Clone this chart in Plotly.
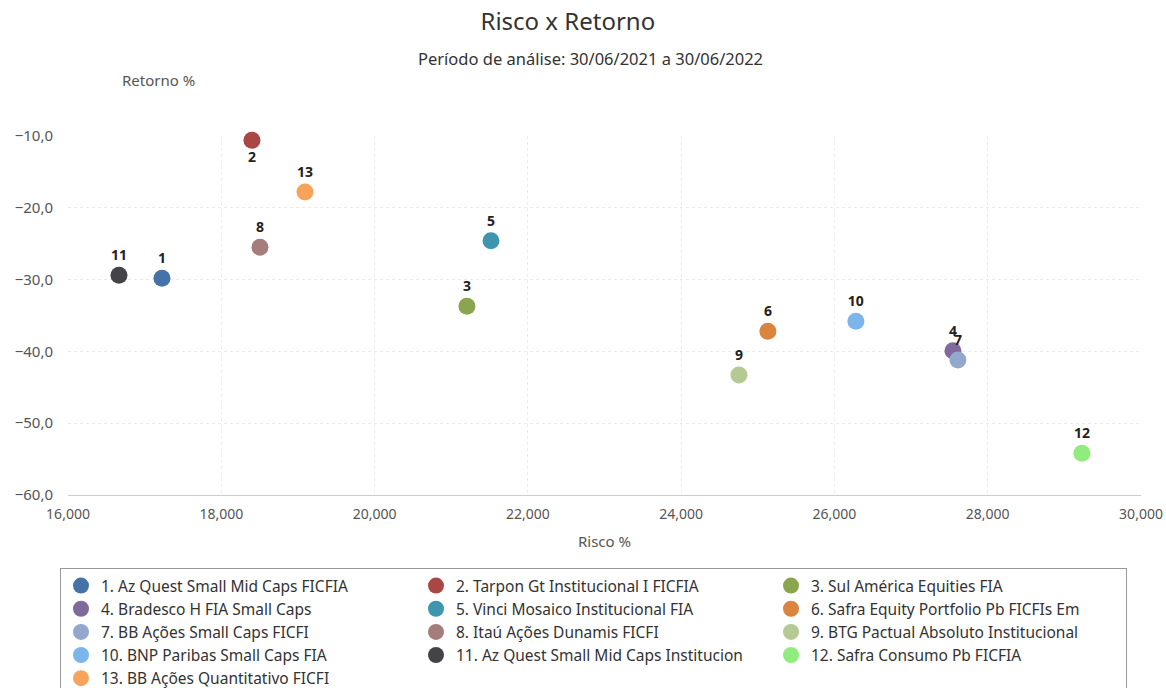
import plotly.graph_objects as go

names = [
    "1. Az Quest Small Mid Caps FICFIA",
    "2. Tarpon Gt Institucional I FICFIA",
    "3. Sul América Equities FIA",
    "4. Bradesco H FIA Small Caps",
    "5. Vinci Mosaico Institucional FIA",
    "6. Safra Equity Portfolio Pb FICFIs Em",
    "7. BB Ações Small Caps FICFI",
    "8. Itaú Ações Dunamis FICFI",
    "9. BTG Pactual Absoluto Institucional",
    "10. BNP Paribas Small Caps FIA",
    "11. Az Quest Small Mid Caps Institucion",
    "12. Safra Consumo Pb FICFIA",
    "13. BB Ações Quantitativo FICFI",
]
labels = [str(i) for i in range(1, 14)]
risco = [17.226, 18.400, 21.205, 27.546, 21.519, 25.132, 27.611, 18.505, 24.754, 26.280, 16.665, 29.229, 19.092]
retorno = [-29.8, -10.6, -33.7, -39.9, -24.6, -37.2, -41.2, -25.5, -43.3, -35.8, -29.4, -54.2, -17.8]
colors = ["#4572A7", "#AA4643", "#89A54E", "#80699B", "#3D96AE", "#DB843D", "#92A8CD",
          "#A47D7C", "#B5CA92", "#7CB5EC", "#434348", "#90ED7D", "#F7A35C"]
label_pos = ["top center", "bottom center"] + ["top center"] * 11

FONT = "Noto Sans"

fig = go.Figure()
for n, lab, x, y, c, p in zip(names, labels, risco, retorno, colors, label_pos):
    fig.add_trace(go.Scatter(
        x=[x], y=[y], mode="markers+text", name=n, text=[lab], textposition=p,
        marker=dict(size=17, color=c),
        textfont=dict(family=FONT, size=14, color="#222222", weight="bold"),
        cliponaxis=False,
    ))

H = 359.0
fig.update_layout(
    width=1166, height=688,
    margin=dict(l=68, r=25, t=136, b=193, autoexpand=False),
    paper_bgcolor="white", plot_bgcolor="white",
    separators=",.",
    font=dict(family=FONT, size=14, color="#555555"),
    title=dict(text="Risco x Retorno", x=0.487, xanchor="center", y=1 - 22 / 688, yanchor="middle",
               font=dict(family=FONT, size=24, color="#333333")),
    showlegend=True,
    legend=dict(
        orientation="h", xref="container", yref="container",
        x=60 / 1166, xanchor="left", y=1 - 568 / 688, yanchor="top",
        entrywidth=310, entrywidthmode="pixels",
        bordercolor="#999999", borderwidth=1,
        font=dict(family=FONT, size=15.5, color="#333333"),
        itemsizing="trace", traceorder="normal",
    ),
    xaxis=dict(
        range=[16, 30], dtick=2, tick0=16, tickformat=".3f",
        showgrid=True, gridcolor="#EAEAEA", griddash="dot", gridwidth=1,
        showline=True, linecolor="#C0D0E0", linewidth=1,
        ticks="", zeroline=False, ticklabelstandoff=6,
        tickfont=dict(family=FONT, size=14, color="#555555"),
        title=dict(text="Risco %", font=dict(family=FONT, size=15, color="#555555"), standoff=14),
    ),
    yaxis=dict(
        range=[-60, -10], dtick=10, tick0=-60, tickformat=".1f",
        showgrid=True, gridcolor="#EAEAEA", griddash="dot", gridwidth=1,
        showline=False, zeroline=False, ticks="", ticklabelstandoff=14,
        tickfont=dict(family=FONT, size=15, color="#555555"),
    ),
    annotations=[
        dict(text="Período de análise: 30/06/2021 a 30/06/2022", xref="paper", yref="paper",
             x=0.487, y=(495 - 59) / H, xanchor="center", yanchor="middle", showarrow=False,
             font=dict(family=FONT, size=16.5, color="#333333")),
        dict(text="Retorno %", xref="paper", yref="paper",
             x=(158 - 68) / 1073, y=(495 - 80) / H, xanchor="center", yanchor="middle", showarrow=False,
             font=dict(family=FONT, size=15, color="#555555")),
    ],
)

fig.write_html("out.html", config={"displayModeBar": False},
               post_script="document.body.style.margin='0';document.body.style.overflow='hidden';")
